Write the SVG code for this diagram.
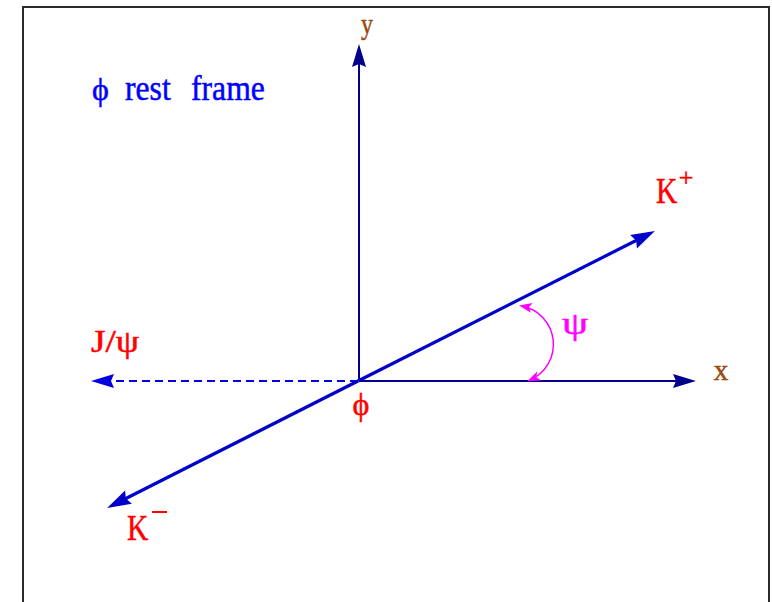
<svg xmlns="http://www.w3.org/2000/svg" width="772" height="602" viewBox="0 0 772 602">
<style>
.lbl{font-family:"Liberation Serif","DejaVu Serif",serif;stroke-width:0.5;}
.red{fill:#ff0000;stroke:#ff0000;}
.brown{fill:#9a4a10;stroke:#9a4a10;}
.blue{fill:#0000ff;stroke:#0000ff;}
.mag{fill:#ff00ff;stroke:#ff00ff;}
.axis{stroke:#00008b;stroke-width:2;fill:none;}
.kline{stroke:#0000c8;stroke-width:3.2;fill:none;}
</style>
<defs>
<marker id="arrNavy" markerUnits="userSpaceOnUse" markerWidth="30" markerHeight="20" refX="0" refY="0" orient="auto" overflow="visible">
<path d="M10,0 L-13,-7 L-10,0 L-13,7 Z" fill="#00008b"/>
</marker>
<marker id="arrBlue" markerUnits="userSpaceOnUse" markerWidth="30" markerHeight="20" refX="0" refY="0" orient="auto" overflow="visible">
<path d="M10,0 L-14,-7.5 L-11,0 L-14,7.5 Z" fill="#0000c8"/>
</marker>
<marker id="arrDash" markerUnits="userSpaceOnUse" markerWidth="30" markerHeight="20" refX="0" refY="0" orient="auto" overflow="visible">
<path d="M10,0 L-13,-7 L-10,0 L-13,7 Z" fill="#0000e0"/>
</marker>
<marker id="arrMag" markerUnits="userSpaceOnUse" markerWidth="20" markerHeight="20" refX="0" refY="0" orient="auto-start-reverse" overflow="visible">
<path d="M3,0 L-10,-5 L-7,0 L-10,5 Z" fill="#ff00ff"/>
</marker>
</defs>
<rect width="772" height="602" fill="#ffffff"/>
<rect id="frame" x="23" y="7" width="746" height="640" fill="none" stroke="#2a2a2a" stroke-width="2"/>
<g id="connectors">
<line id="y-axis" class="axis" x1="359" y1="381" x2="359" y2="54" marker-end="url(#arrNavy)"/>
<line id="x-axis" class="axis" x1="359" y1="381" x2="686" y2="381" marker-end="url(#arrNavy)"/>
<line id="jpsi-dir" x1="358" y1="381" x2="101" y2="381" stroke="#0000e0" stroke-width="2" stroke-dasharray="8,5" marker-end="url(#arrDash)"/>
<line id="kplus-dir" class="kline" x1="358" y1="381" x2="646" y2="235.5" marker-end="url(#arrBlue)"/>
<line id="kminus-dir" class="kline" x1="358" y1="381" x2="116" y2="503.5" marker-end="url(#arrBlue)"/>
<path id="psi-arc" d="M522,306 A39,39 0 0 1 530,380" fill="none" stroke="#ff00ff" stroke-width="1.5" marker-start="url(#arrMag)" marker-end="url(#arrMag)"/>
</g>
<g id="title">
<text class="lbl blue" x="92" y="100" font-size="32">ϕ</text>
<text class="lbl blue" transform="translate(125,100) scale(0.88,1)" font-size="36">rest</text>
<text class="lbl blue" transform="translate(191,100) scale(0.88,1)" font-size="36">frame</text>
</g>
<g id="label-y"><text class="lbl brown" transform="translate(367,34) scale(0.8,1)" font-size="30" text-anchor="middle">y</text></g>
<g id="label-x"><text class="lbl brown" x="721" y="380" font-size="29" text-anchor="middle">x</text></g>
<g id="label-kplus">
<text class="lbl red" transform="translate(656,203) scale(0.82,1)" font-size="36">K</text>
<text class="lbl red" x="686" y="186" font-size="26" text-anchor="middle">+</text>
</g>
<g id="label-kminus">
<text class="lbl red" transform="translate(127,540) scale(0.82,1)" font-size="36">K</text>
<line x1="152" y1="512" x2="167" y2="512" stroke="#ff0000" stroke-width="2"/>
</g>
<g id="label-jpsi"><text class="lbl red" transform="translate(91,352) scale(1.2,1)" font-size="31">J/ψ</text></g>
<g id="label-phi"><text class="lbl red" x="361" y="415" font-size="32" text-anchor="middle">ϕ</text></g>
<g id="label-psi"><text class="lbl mag" transform="translate(575,334) scale(1.3,1)" font-size="32" text-anchor="middle">ψ</text></g>
</svg>
